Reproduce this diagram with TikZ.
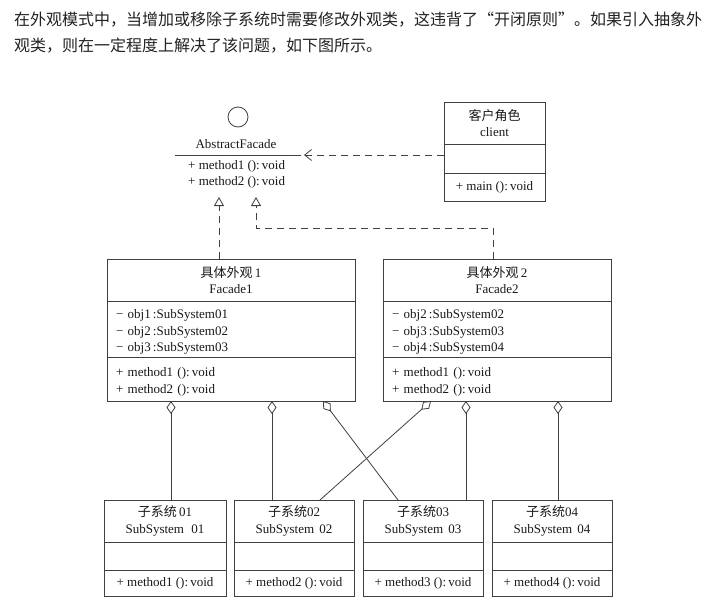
\documentclass[tikz,border=0pt]{standalone}
\usepackage{fontspec}
\setmainfont{Liberation Serif}
\newfontfamily\cjk{Noto Sans CJK SC}
\usetikzlibrary{arrows.meta,positioning}
\definecolor{umlline}{RGB}{64,64,64}
\definecolor{umltext}{RGB}{25,25,25}
\definecolor{paratext}{RGB}{34,34,34}
\tikzset{
  uml/.style={draw=umlline,line width=.8pt,inner sep=0pt,outer sep=0pt,
              text=umltext,font=\fontsize{13}{16.5}\selectfont},
  hd/.style={uml,align=center},
  sec/.style={uml,align=left,inner xsep=9pt,execute at begin node=\rule{0pt}{15pt}},
  ctr/.style={uml,align=center},
  txt/.style={inner sep=0pt,text=umltext,font=\fontsize{13}{16.5}\selectfont},
  ln/.style={draw=umlline,line width=.8pt},
  dep/.style={ln,dash pattern=on 7pt off 5pt,-{Straight Barb[length=7pt,width=11pt]}},
  real/.style={ln,dash pattern=on 7pt off 5pt,-{Triangle[open,length=9pt,width=10pt]}},
  agg/.style={ln,{Diamond[open,length=13pt,width=9pt]}-},
  para/.style={anchor=west,inner sep=0pt,text=paratext,font=\cjk\fontsize{16}{20}\selectfont},
}
\begin{document}
\begin{tikzpicture}[x=1pt,y=-1pt]
  \fill[white] (0,0) rectangle (721,608);
  \useasboundingbox (0,0) rectangle (721,608);
  % text above the diagram
  \node[para] (p1) at (14,20) {在外观模式中，当增加或移除子系统时需要修改外观类，这违背了“开闭原则”。如果引入抽象外};
  \node[para] (p2) at (14,46) {观类，则在一定程度上解决了该问题，如下图所示。};
  % abstract facade
  \node[ln,circle,minimum size=20pt,inner sep=0pt] (ifc) at (238,117) {};
  \node[txt] (af) at (236,144) {AbstractFacade};
  \coordinate (afl) at (175,155);
  \coordinate (afr) at (301,155);
  \coordinate (dp) at (304,155);
  \draw[ln] (afl) -- (afr);
  \node[txt,anchor=north west,align=left] (afm) at (188,160) {+ method1 ():\,void\\+ method2 ():\,void};
  % client
  \node[hd,minimum width=101,minimum height=42] (cl) at (494.5,123) {{\cjk 客户角色}\\client};
  \node[ctr,minimum width=101,minimum height=29,below=0pt of cl] (cla) {};
  \node[ctr,minimum width=101,minimum height=28,below=0pt of cla] (clm) {+ main ():\,void};
  \draw[dep] (cla.west |- dp) -- (dp);
  % concrete facades
  \node[hd,minimum width=248,minimum height=42] (f1) at (231,280) {{\cjk 具体外观}\,1\\Facade1};
  \node[sec,text width=230,minimum height=56,below=0pt of f1] (f1a)
    {− obj1\,:SubSystem01\\− obj2\,:SubSystem02\\− obj3\,:SubSystem03};
  \node[sec,text width=230,minimum height=44,below=0pt of f1a] (f1m)
    {+ method1 ():\,void\\+ method2 ():\,void};
  \node[hd,minimum width=228,minimum height=42] (f2) at (497,280) {{\cjk 具体外观}\,2\\Facade2};
  \node[sec,text width=210,minimum height=56,below=0pt of f2] (f2a)
    {− obj2\,:SubSystem02\\− obj3\,:SubSystem03\\− obj4\,:SubSystem04};
  \node[sec,text width=210,minimum height=44,below=0pt of f2a] (f2m)
    {+ method1 ():\,void\\+ method2 ():\,void};
  % realization
  \coordinate (g1) at (219,197);
  \coordinate (g2) at (256,197);
  \coordinate (bend) at (493,228);
  \draw[real] (f1.north -| g1) -- (g1);
  \draw[real] (f2.north -| bend) -- (bend) -| (g2);
  % subsystems
  \foreach \n/\x/\w/\lab in {1/165/122/{\,01},2/294/120/02,3/423/120/03,4/552/120/04}{
    \node[hd,minimum width=\w,minimum height=42] (s\n) at (\x,521)
      {{\cjk 子系统}\lab\\SubSystem\hspace{.4em}\lab};
    \node[ctr,minimum width=\w,minimum height=28,below=0pt of s\n] (sa\n) {};
    \node[ctr,minimum width=\w,minimum height=26,below=0pt of sa\n] (sm\n) {+ method\n\ ():\,void};
  }
  % aggregation
  \draw[agg] ([xshift=-60pt]f1m.south) -- ([xshift=6pt]s1.north);
  \draw[agg] ([xshift=41pt]f1m.south) -- ([xshift=-22pt]s2.north);
  \draw[agg] ([xshift=92pt]f1m.south) -- ([xshift=-25pt]s3.north);
  \draw[agg] ([xshift=-66pt]f2m.south) -- ([xshift=26pt]s2.north);
  \draw[agg] ([xshift=-31pt]f2m.south) -- ([xshift=43pt]s3.north);
  \draw[agg] ([xshift=61pt]f2m.south) -- ([xshift=6pt]s4.north);
\end{tikzpicture}
\end{document}
